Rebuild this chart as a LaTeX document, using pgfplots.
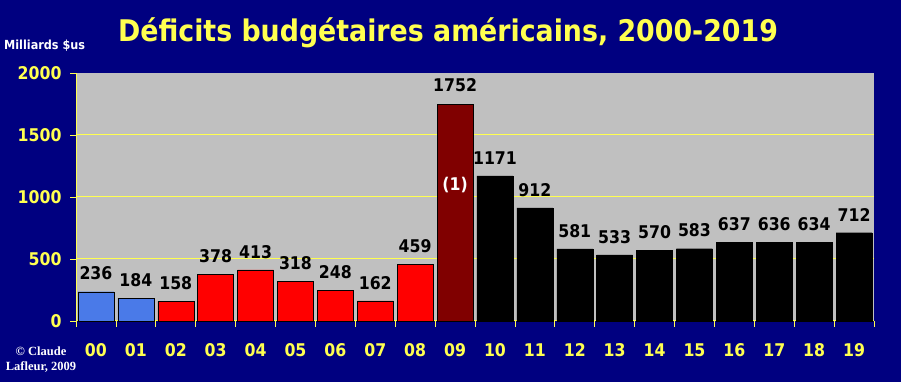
\documentclass[border=0pt]{standalone}
\usepackage{pgfplots}
\pgfplotsset{compat=1.18}
\usepackage{fontspec}
\setmainfont{DejaVu Sans Condensed}
\newfontfamily\serifcr{Liberation Serif}
\definecolor{bgnavy}{RGB}{0,0,128}
\definecolor{plotgray}{RGB}{192,192,192}
\definecolor{ylw}{RGB}{255,255,80}
\definecolor{barblue}{RGB}{74,122,232}
\definecolor{barred}{RGB}{255,0,0}
\definecolor{bardark}{RGB}{128,0,0}
\begin{document}
\begin{tikzpicture}
\fill[bgnavy] (0pt,0pt) rectangle (901pt,382pt);
\begin{axis}[
  at={(76pt,61pt)}, anchor=south west,
  scale only axis, width=798pt, height=248pt,
  xmin=-0.5, xmax=19.5, ymin=0, ymax=2000,
  axis background/.style={fill=plotgray},
  axis lines*=left,
  axis line style={ylw, line width=1pt},
  ybar, bar width=36pt,
  xtick={0,...,19},
  xticklabels={00,01,02,03,04,05,06,07,08,09,10,11,12,13,14,15,16,17,18,19},
  major x tick style={draw=none},
  minor xtick={-0.5,0.5,...,19.5},
  minor tick length=6pt,
  major tick length=6pt,
  tick align=outside,
  tick style={ylw, line width=0.8pt},
  ytick={0,500,1000,1500,2000},
  extra y ticks={500,1000,1500},
  extra y tick labels={},
  extra y tick style={grid=major, tick style={draw=none}},
  grid style={ylw, line width=1pt},
  tick label style={font=\bfseries\fontsize{17.5}{17.5}\selectfont, text=ylw},
  x tick label style={yshift=-13pt},
  y tick label style={xshift=-5pt},
  /pgf/number format/.cd, 1000 sep={}, assume math mode=true, /pgfplots/.cd,
  nodes near coords,
  nodes near coords style={font=\bfseries\fontsize{17.5}{17.5}\selectfont, text=black, yshift=8pt},
  clip=false,
]
\addplot[fill=barblue, draw=black, bar shift=0pt] coordinates {(0,236) (1,184)};
\addplot[fill=barred, draw=black, bar shift=0pt] coordinates {(2,158) (3,378) (4,413) (5,318) (6,248) (7,162) (8,459)};
\addplot[fill=bardark, draw=black, bar shift=0pt] coordinates {(9,1752)};
\addplot[fill=black, draw=black, bar shift=0pt] coordinates {(10,1171) (11,912) (12,581) (13,533) (14,570) (15,583) (16,637) (17,636) (18,634) (19,712)};
\node[text=white, font=\bfseries\fontsize{17.5}{17.5}\selectfont] at (axis cs:9,1100) {(1)};
\end{axis}
\node[text=ylw, font=\bfseries\fontsize{29.8}{29.8}\selectfont] at (448pt,349pt) {Déficits budgétaires américains, 2000-2019};
\node[anchor=west, text=white, font=\bfseries\fontsize{12.5}{12.5}\selectfont, inner sep=0pt] at (4pt,336pt) {Milliards \$us};
\node[align=center, text=white, font=\serifcr\bfseries\fontsize{12.5}{15}\selectfont, inner sep=0pt] at (41pt,22pt) {© Claude\\Lafleur, 2009};
\pgfresetboundingbox
\useasboundingbox (0pt,0pt) rectangle (901pt,382pt);
\end{tikzpicture}
\end{document}
